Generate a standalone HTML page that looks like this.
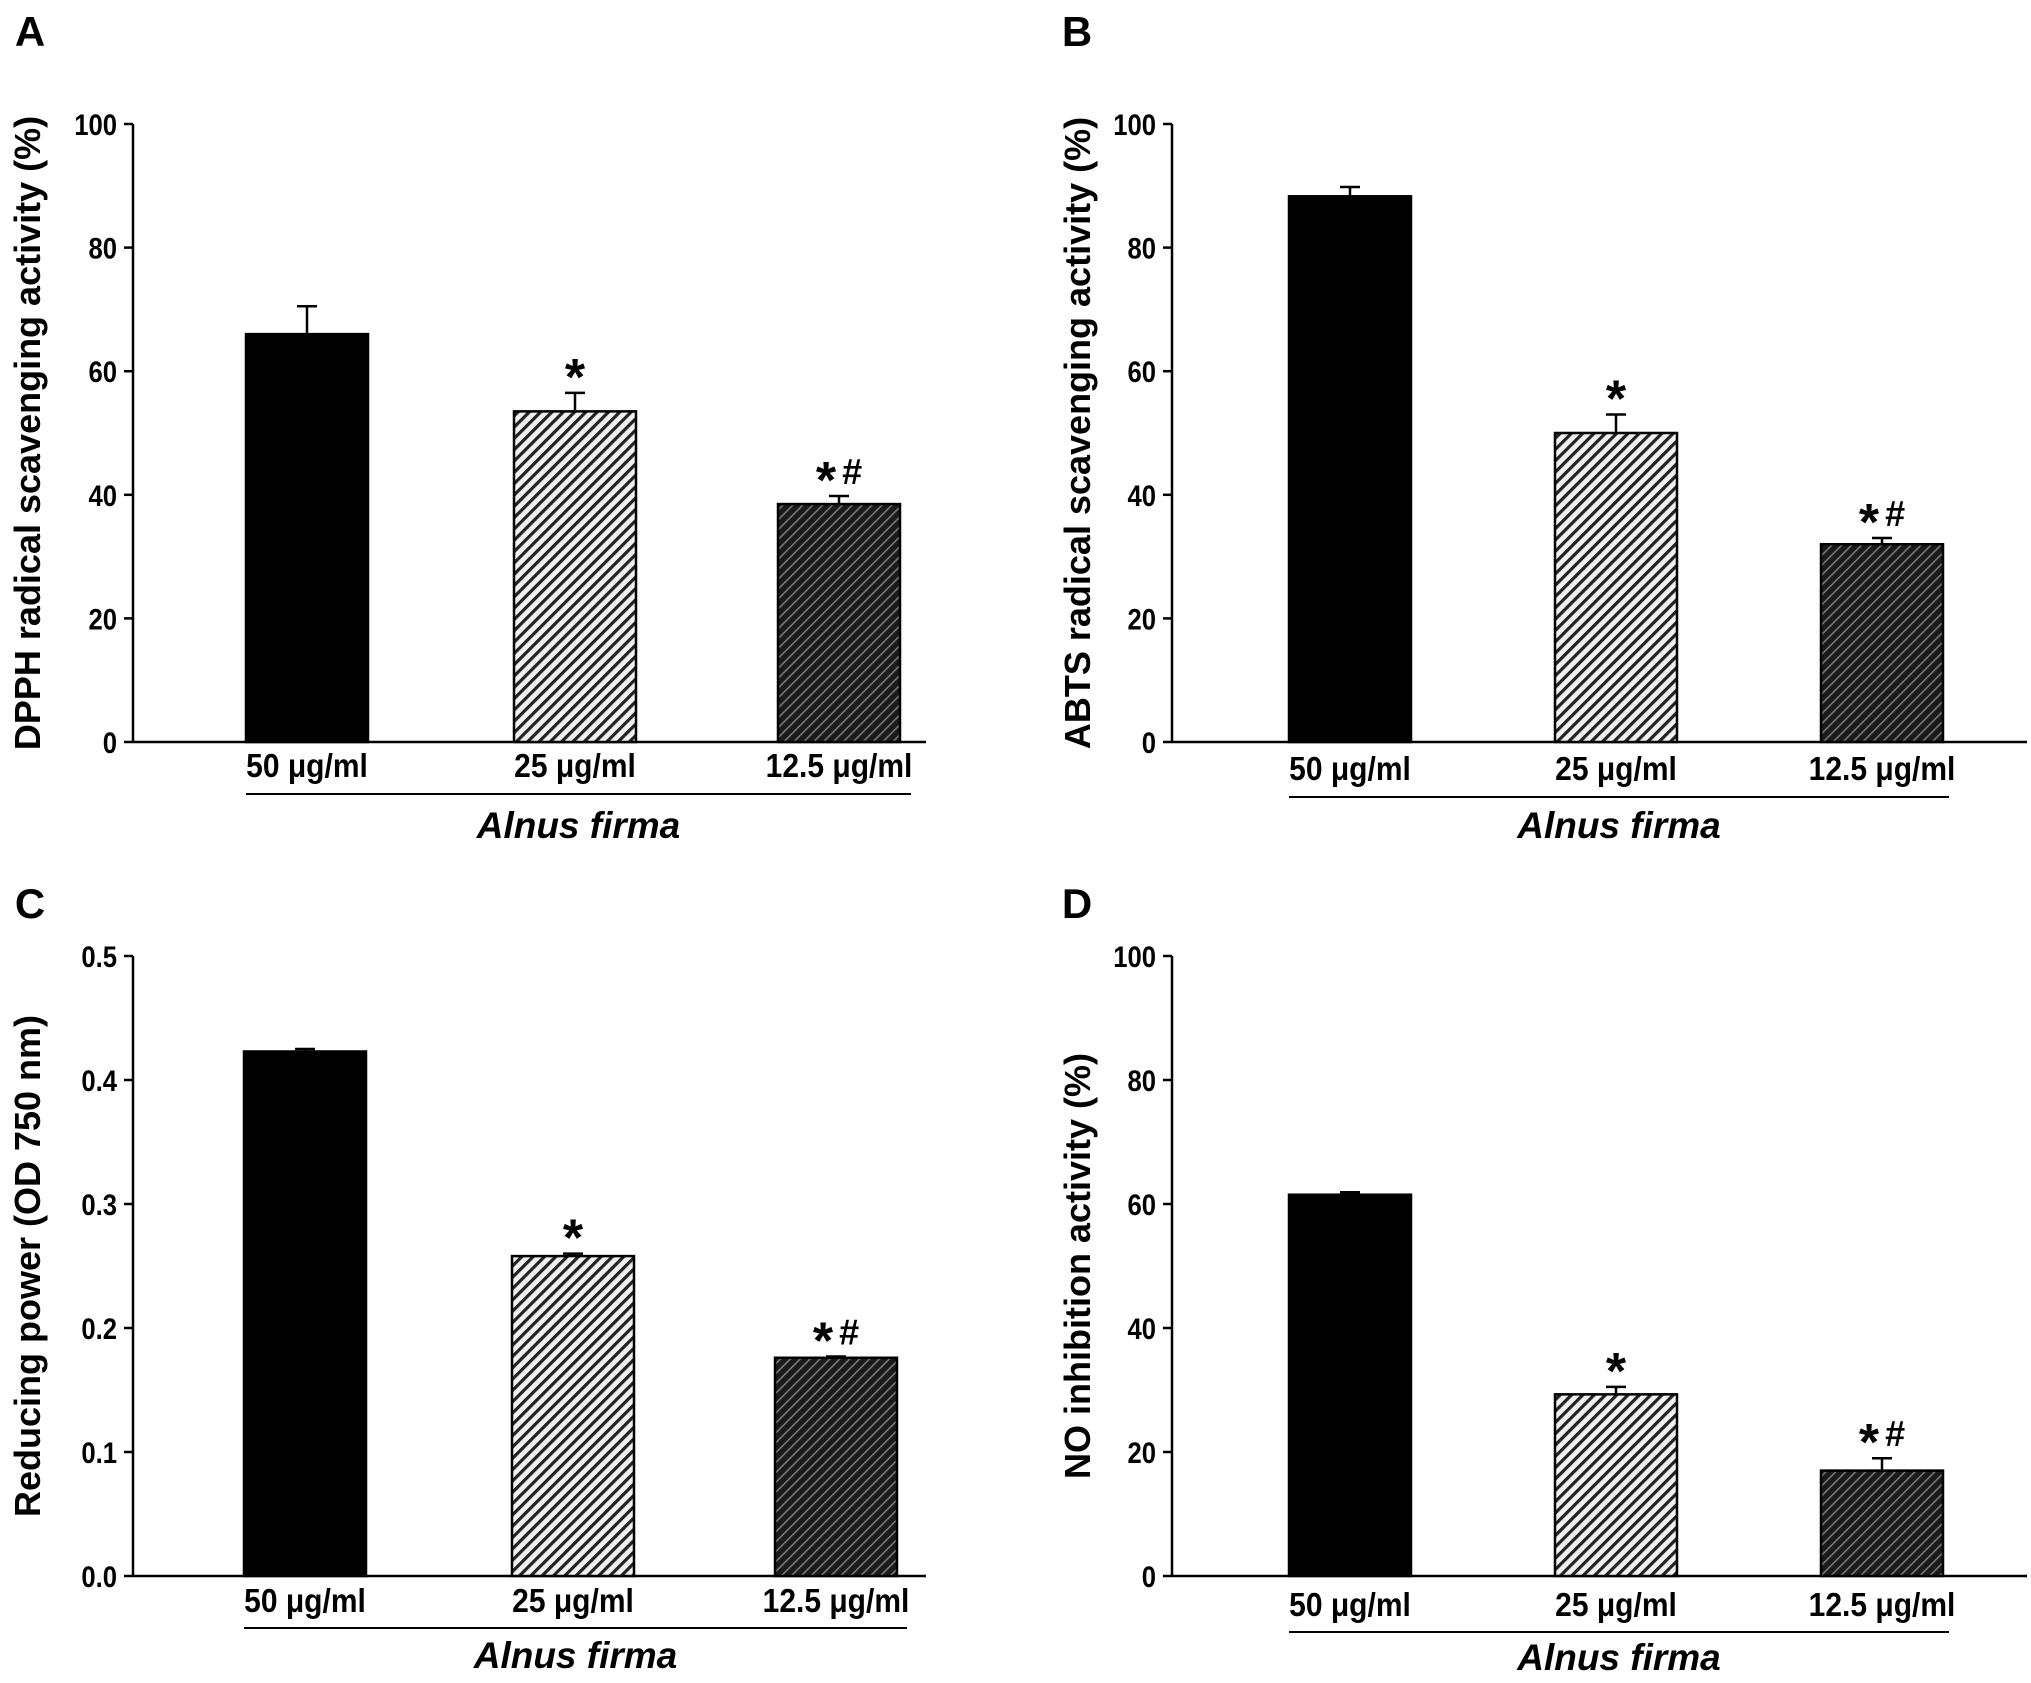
<!DOCTYPE html>
<html><head><meta charset="utf-8"><style>
html,body{margin:0;padding:0;background:#fff;}
svg{display:block;}
text{font-family:"Liberation Sans",Arial,sans-serif;font-weight:bold;fill:#000;}
</style></head><body>
<svg id="fig" width="2031" height="1683" viewBox="0 0 2031 1683" xmlns="http://www.w3.org/2000/svg">
<defs>
<pattern id="hLight" patternUnits="userSpaceOnUse" width="8" height="8" patternTransform="rotate(45)">
<rect width="8" height="8" fill="#f0f0f0"/><rect x="0" width="3.2" height="8" fill="#222"/>
</pattern>
<pattern id="hDark" patternUnits="userSpaceOnUse" width="7" height="7" patternTransform="rotate(45)">
<rect width="7" height="7" fill="#1a1a1a"/><rect x="0" width="1.6" height="7" fill="#777"/>
</pattern>
</defs>
</svg>
<script>
const categories = ["50 μg/ml","25 μg/ml","12.5 μg/ml"];
const dpphValues = [66, 53.5, 38.5];
const dpphErrors = [4.5, 3, 1.3];
const abtsValues = [88.3, 50, 32];
const abtsErrors = [1.5, 3, 1];
const reducingValues = [0.423, 0.258, 0.176];
const reducingErrors = [0.002, 0.002, 0.001];
const noValues = [61.5, 29.3, 17];
const noErrors = [0.4, 1.2, 2];
const pctTicks = [0,20,40,60,80,100];
const odTicks = [0.0,0.1,0.2,0.3,0.4,0.5];
const odTickLabels = ["0.0","0.1","0.2","0.3","0.4","0.5"];
const sigMarks = ["", "*", "*#"];

const svg = document.getElementById('fig');
const NS = 'http://www.w3.org/2000/svg';
function el(tag, attrs, parent){const e=document.createElementNS(NS,tag);for(const k in attrs)e.setAttribute(k,attrs[k]);(parent||svg).appendChild(e);return e;}

const panels = [
 {id:'a', letter:'A', lx:30, ly:46, ax:133, y0:742, yTop:124, xEnd:926, bars:[246,514,778], bw:122, max:100, ticks:pctTicks, tlabels:pctTicks.map(String), vals:dpphValues, errs:dpphErrors, title:'DPPH radical scavenging activity (%)', tx:28, ul:[246,911], lblY:777, ulY:794, afY:838},
 {id:'b', letter:'B', lx:1077, ly:46, ax:1172, y0:742, yTop:124, xEnd:2027, bars:[1289,1555,1821], bw:122, max:100, ticks:pctTicks, tlabels:pctTicks.map(String), vals:abtsValues, errs:abtsErrors, title:'ABTS radical scavenging activity (%)', tx:1078, ul:[1289,1949], lblY:780, ulY:797, afY:838},
 {id:'c', letter:'C', lx:30, ly:918, ax:133, y0:1576, yTop:956, xEnd:926, bars:[244,512,775], bw:122, max:0.5, ticks:odTicks, tlabels:odTickLabels, vals:reducingValues, errs:reducingErrors, title:'Reducing power (OD  750 nm)', tx:28, ul:[244,907], lblY:1612, ulY:1628, afY:1668},
 {id:'d', letter:'D', lx:1077, ly:918, ax:1172, y0:1576, yTop:956, xEnd:2027, bars:[1289,1555,1821], bw:122, max:100, ticks:pctTicks, tlabels:pctTicks.map(String), vals:noValues, errs:noErrors, title:'NO inhibition activity (%)', tx:1078, ul:[1289,1949], lblY:1616, ulY:1632, afY:1670}
];
const fills = ['#000','url(#hLight)','url(#hDark)'];

panels.forEach(p=>{
  const g = el('g',{});
  
  
  const yScale = v => p.y0 - (v/p.max)*(p.y0-p.yTop);
  const L = el('text',{x:p.lx,y:p.ly,'font-size':42,'text-anchor':'middle'},g); L.textContent=p.letter;
  
  
  const ya = el('line',{x1:p.ax,y1:p.yTop,x2:p.ax,y2:p.y0,stroke:'#000','stroke-width':2.5},g);
  
  
  const xa = el('line',{x1:p.ax,y1:p.y0,x2:p.xEnd,y2:p.y0,stroke:'#000','stroke-width':2.5},g);
  
  
  p.ticks.forEach((t,i)=>{
    const y=yScale(t);
    el('line',{x1:p.ax-9,y1:y,x2:p.ax,y2:y,stroke:'#000','stroke-width':2.5},g);
    const tt=el('text',{x:p.ax-16,y:y+10,'font-size':27,'text-anchor':'end',transform:`translate(${p.ax-16} ${y}) scale(0.95 1.1) translate(${-(p.ax-16)} ${-y})`},g);
    tt.textContent=p.tlabels[i];
    
    
  });
  const cy=(p.yTop+p.y0)/2;
  const ti=el('text',{x:p.tx,y:cy,'font-size':36,'text-anchor':'middle',transform:`rotate(-90 ${p.tx} ${cy}) translate(0 12)`},g);
  ti.textContent=p.title;
  
  
  p.vals.forEach((v,i)=>{
    const x=p.bars[i], top=yScale(v), cx=x+p.bw/2, et=yScale(v+p.errs[i]);
    const el1=el('line',{x1:cx,y1:top,x2:cx,y2:et,stroke:'#000','stroke-width':2.5},g);
    
    
    el('line',{x1:cx-10,y1:et,x2:cx+10,y2:et,stroke:'#000','stroke-width':2.5},g);
    const r=el('rect',{x:x,y:top,width:p.bw,height:p.y0-top,fill:fills[i],stroke:'#000','stroke-width':2.5},g);
    
    
    if(sigMarks[i]){
      const s=el('text',{x:cx,y:et+2,'text-anchor':'middle'},g);
      
      
      if(sigMarks[i]==='*'){ s.setAttribute('font-size',52); s.textContent='*'; }
      else {
        const a=el('tspan',{'font-size':52},s); a.textContent='*';
        const b=el('tspan',{'font-size':36,dx:6,dy:-14},s); b.textContent='#';
      }
    }
    const cl=el('text',{x:cx,y:p.lblY,'font-size':30,'text-anchor':'middle',transform:`translate(${cx} ${p.lblY}) scale(1 1.1) translate(${-cx} ${-p.lblY})`},g);
    cl.textContent=categories[i];
    
    
  });
  el('line',{x1:p.ul[0],y1:p.ulY,x2:p.ul[1],y2:p.ulY,stroke:'#000','stroke-width':2},g);
  const af=el('text',{x:(p.ul[0]+p.ul[1])/2,y:p.afY,'font-size':37,'text-anchor':'middle','font-style':'italic'},g);
  af.textContent='Alnus firma';
  
  
});
</script>
</body></html>
